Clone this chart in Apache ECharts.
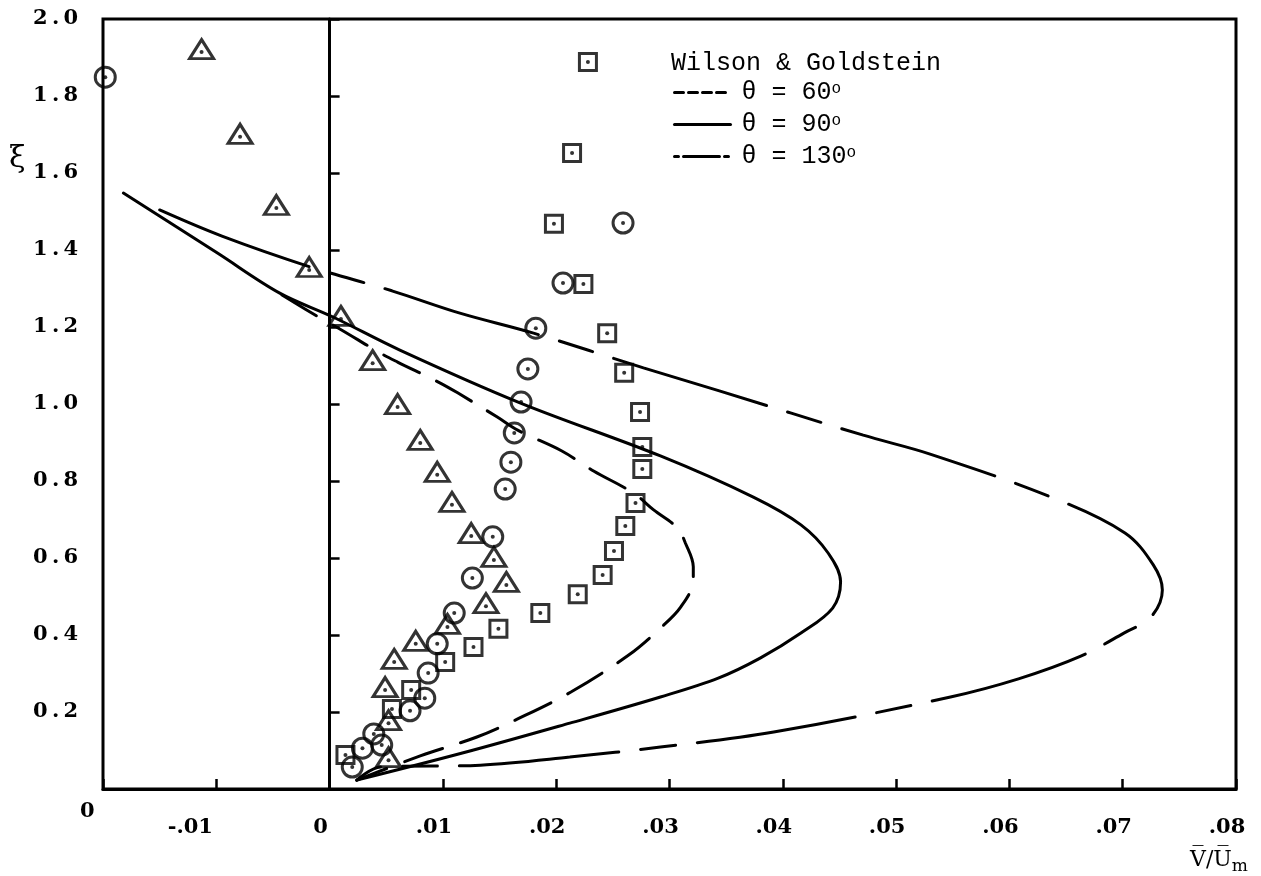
<!DOCTYPE html>
<html><head><meta charset="utf-8">
<script src="https://cdn.jsdelivr.net/npm/echarts@6/dist/echarts.min.js"></script>
<style>html,body{margin:0;padding:0;background:#fff}#c{width:1261px;height:876px}</style>
</head><body><div id="c"></div>
<script>
// ---- tick labels ----
const xTickLabels = ['', '-.01', '0', '.01', '.02', '.03', '.04', '.05', '.06', '.07', '.08'];
const yTickLabels = ['', '0.2', '0.4', '0.6', '0.8', '1.0', '1.2', '1.4', '1.6', '1.8', '2.0'];

// ---- measured points [V/Um, xi] ----
const circles = [
  [-0.0198, 1.849], [0.0259, 1.470], [0.0206, 1.314], [0.0182, 1.197], [0.0175, 1.091],
  [0.0169, 1.005], [0.0163, 0.925], [0.0160, 0.849], [0.0155, 0.779], [0.0144, 0.655],
  [0.0126, 0.548], [0.0110, 0.457], [0.0095, 0.377], [0.0087, 0.301], [0.0084, 0.236],
  [0.0071, 0.203], [0.0046, 0.114], [0.0039, 0.143], [0.0029, 0.106], [0.0020, 0.057]
];
const triangles = [
  [-0.0113, 1.914], [-0.0079, 1.694], [-0.0047, 1.509], [-0.0018, 1.348], [0.0010, 1.221],
  [0.0038, 1.106], [0.0060, 0.992], [0.0080, 0.899], [0.0095, 0.816], [0.0108, 0.738],
  [0.0125, 0.657], [0.0145, 0.595], [0.0156, 0.530], [0.0138, 0.475], [0.0104, 0.421],
  [0.0076, 0.377], [0.0057, 0.330], [0.0049, 0.257], [0.0052, 0.171], [0.0052, 0.075]
];
const squares = [
  [0.0228, 1.888], [0.0214, 1.652], [0.0198, 1.468], [0.0224, 1.312], [0.0245, 1.184],
  [0.0260, 1.081], [0.0274, 0.979], [0.0276, 0.888], [0.0276, 0.831], [0.0270, 0.743],
  [0.0261, 0.683], [0.0251, 0.618], [0.0241, 0.556], [0.0219, 0.506], [0.0186, 0.457],
  [0.0149, 0.416], [0.0127, 0.369], [0.0102, 0.330], [0.0072, 0.257], [0.0055, 0.208],
  [0.0014, 0.088]
];

// ---- Wilson & Goldstein curves ----
const theta60 = [
  [-0.0042, 1.283], [-0.0008, 1.223], [0.0009, 1.195], [0.0045, 1.132], [0.0060, 1.109],
  [0.0096, 1.057], [0.0113, 1.029], [0.0148, 0.966], [0.0166, 0.932], [0.0205, 0.878],
  [0.0233, 0.826], [0.0268, 0.769], [0.0286, 0.725], [0.0307, 0.678], [0.0314, 0.639],
  [0.0321, 0.577], [0.0321, 0.543], [0.0310, 0.473], [0.0292, 0.418], [0.0264, 0.348],
  [0.0213, 0.252], [0.0166, 0.182], [0.0130, 0.135], [0.0080, 0.086], [0.0024, 0.023]
];
const theta90 = [
  [-0.0182, 1.548], [-0.0099, 1.392], [-0.0044, 1.288], [0.0003, 1.226], [0.0062, 1.140],
  [0.0168, 1.003], [0.0292, 0.865], [0.0374, 0.758], [0.0416, 0.686], [0.0440, 0.613],
  [0.0451, 0.538], [0.0444, 0.470], [0.0416, 0.405], [0.0380, 0.340], [0.0343, 0.288],
  [0.0292, 0.239], [0.0212, 0.171], [0.0118, 0.094], [0.0024, 0.023]
];
const theta130 = [
  [-0.0150, 1.504], [-0.0095, 1.436], [-0.0017, 1.356], [0.0055, 1.294], [0.0115, 1.236],
  [0.0180, 1.184], [0.0277, 1.094], [0.0344, 1.034], [0.0471, 0.919], [0.0530, 0.870],
  [0.0637, 0.758], [0.0702, 0.665], [0.0727, 0.582], [0.0735, 0.517], [0.0725, 0.447],
  [0.0701, 0.405], [0.0663, 0.345], [0.0608, 0.286], [0.0548, 0.239], [0.0392, 0.148],
  [0.0292, 0.109], [0.0212, 0.083], [0.0133, 0.062], [0.0045, 0.057], [0.0024, 0.023]
];
const curveNames = ['θ = 60°', 'θ = 90°', 'θ = 130°'];

const chart = echarts.init(document.getElementById('c'), null, {renderer: 'canvas'});
const INK = '#000';
const labelFont = 'DejaVu Serif';
const hollow = {color: 'rgba(255,255,255,0)', borderColor: INK, borderWidth: 3};

function curve(name, data, type) {
  return {
    name, type: 'line', data, symbol: 'none', smooth: 0.35, z: 3,
    lineStyle: {color: INK, width: 3, type, cap: 'round'},
    itemStyle: {color: INK}, silent: true, animation: false
  };
}
function markers(data, symbol, size, offset) {
  return [
    {type: 'scatter', data, symbol, symbolSize: size, symbolOffset: offset || [0, 0],
     itemStyle: hollow, z: 4, silent: true, animation: false},
    {type: 'scatter', data, symbol: 'circle', symbolSize: 4,
     itemStyle: {color: INK}, z: 5, silent: true, animation: false}
  ];
}

const s60 = curve(curveNames[0], theta60, [40, 19]);
const s90 = curve(curveNames[1], theta90, 'solid');
const s130 = curve(curveNames[2], theta130, [160, 22, 35, 22]);
s90.markLine = {
  silent: true, symbol: 'none', animation: false,
  label: {show: false},
  lineStyle: {color: INK, width: 2.5, type: 'solid'},
  data: [{xAxis: 0}]
};

const noDot = {opacity: 0};
chart.setOption({
  backgroundColor: '#fff',
  animation: false,
  title: {
    text: 'Wilson & Goldstein', left: 666, top: 46,
    textStyle: {fontFamily: 'Liberation Mono', fontSize: 25, fontWeight: 'normal', color: INK}
  },
  legend: {
    orient: 'vertical', left: 668, top: 75, itemWidth: 56, itemHeight: 14, itemGap: 7,
    selectedMode: false,
    itemStyle: noDot,
    data: [
      {name: curveNames[0], itemStyle: noDot, lineStyle: {type: [9, 5], width: 3}},
      {name: curveNames[1], itemStyle: noDot, lineStyle: {type: 'solid', width: 3}},
      {name: curveNames[2], itemStyle: noDot, lineStyle: {type: [4, 5, 36, 5], width: 3}}
    ],
    formatter: n => n.replace('°', '{s|o}'),
    textStyle: {
      fontFamily: 'Liberation Mono', fontSize: 25, color: INK, lineHeight: 24,
      padding: [0, 0, 0, 6],
      rich: {s: {fontFamily: 'Liberation Mono', fontSize: 16, lineHeight: 24, verticalAlign: 'top', padding: [0, 0, 8, 0], color: INK}}
    }
  },
  grid: {left: 103, right: 25, top: 19, bottom: 87, show: true, borderColor: INK, borderWidth: 3, containLabel: false},
  xAxis: {
    type: 'value', min: -0.02, max: 0.08, interval: 0.01,
    axisLine: {show: true, lineStyle: {color: INK, width: 3}},
    axisTick: {show: true, inside: true, length: 10, lineStyle: {color: INK, width: 2.5}},
    splitLine: {show: false},
    axisLabel: {
      show: true, margin: 28, showMinLabel: true, showMaxLabel: true, hideOverlap: false,
      formatter: v => {
        const t = xTickLabels[Math.round((v + 0.02) / 0.01)] || '';
        if (!t) return '';
        return (t === '-.01' ? '{u|' : '{t|') + t + '}';
      },
      rich: {
        t: {fontFamily: labelFont, fontWeight: 'bold', fontSize: 21, color: INK, padding: [0, 18, 0, 0]},
        u: {fontFamily: labelFont, fontWeight: 'bold', fontSize: 21, color: INK, padding: [0, 52, 0, 0]}
      }
    }
  },
  yAxis: {
    type: 'value', min: 0, max: 2.0, interval: 0.2,
    axisLine: {show: true, lineStyle: {color: INK, width: 3}},
    axisTick: {show: true, inside: true, length: 10, lineStyle: {color: INK, width: 2.5}},
    splitLine: {show: false},
    axisLabel: {
      show: true, margin: 25, showMinLabel: true, showMaxLabel: true,
      fontFamily: labelFont, fontWeight: 'bold', fontSize: 21, color: INK,
      formatter: v => (yTickLabels[Math.round(v / 0.2)] || '').split('').join('\u2009')
    }
  },
  graphic: [
    {type: 'text', x: 9, y: 144, style: {text: 'ξ', font: '30px "DejaVu Serif"', fill: INK}},
    {type: 'text', x: 80, y: 801, style: {text: '0', font: 'bold 21px "DejaVu Serif"', fill: INK}},
    {type: 'text', x: 1190, y: 846, style: {
      text: '{a|V\u0305/U\u0305}{b|m}',
      rich: {
        a: {fontFamily: labelFont, fontSize: 22, fill: INK, color: INK},
        b: {fontFamily: labelFont, fontSize: 17, fill: INK, color: INK, padding: [12, 0, 0, 0]}
      }
    }}
  ],
  series: [
    s60, s90, s130,
    ...markers(circles, 'circle', 20),
    ...markers(triangles, 'triangle', [24, 19], [0, -3]),
    ...markers(squares, 'rect', 17)
  ]
});
</script>
</body></html>
